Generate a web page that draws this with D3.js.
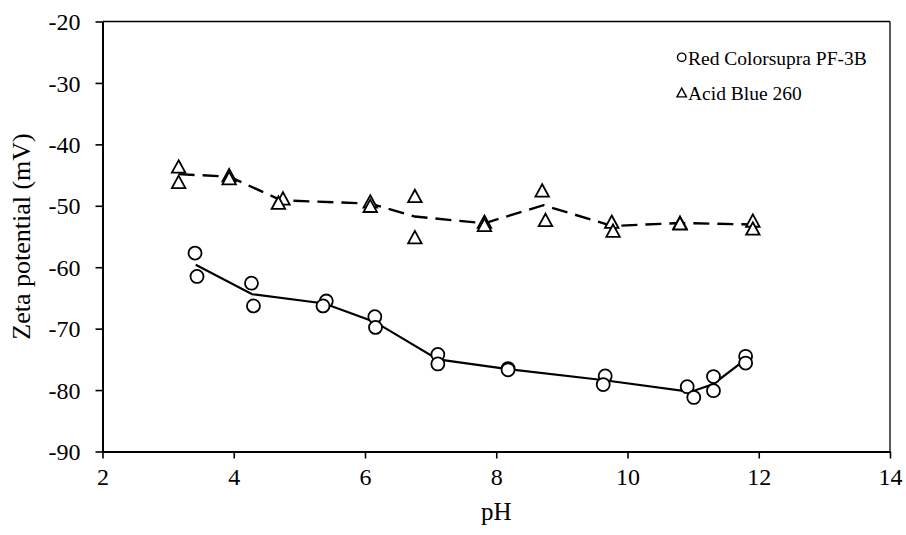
<!DOCTYPE html>
<html>
<head>
<meta charset="utf-8">
<script src="https://cdn.jsdelivr.net/npm/d3@7"></script>
<style>
  html, body { margin: 0; padding: 0; background: #fff; }
  svg { display: block; }
  text { font-family: "Liberation Serif", "Times New Roman", serif; fill: #000; }
</style>
</head>
<body>
<svg id="chart" width="906" height="535"></svg>
<script>
// Zeta potential vs pH, replicate measurements and the mean trend per dye
const xTicks = [2, 4, 6, 8, 10, 12, 14];
const yTicks = [-90, -80, -70, -60, -50, -40, -30, -20];

const seriesNames = ["Red Colorsupra PF-3B", "Acid Blue 260"];

// Red Colorsupra PF-3B: individual readings
const redPH   = [3.41, 3.44, 4.27, 4.30, 5.41, 5.36, 6.15, 6.16, 7.11, 7.11,
                 8.18, 8.18, 9.66, 9.63, 10.91, 11.01, 11.31, 11.31, 11.80, 11.80];
const redZeta = [-57.7, -61.5, -62.6, -66.3, -65.5, -66.3, -68.05, -69.8, -74.2, -75.75,
                 -76.5, -76.7, -77.7, -79.1, -79.45, -81.2, -77.8, -80.1, -74.5, -75.6];
// Red Colorsupra PF-3B: mean trend
const redMeanPH   = [3.42, 4.28, 5.38, 6.15, 7.11, 8.18, 9.65, 10.96, 11.31, 11.80];
const redMeanZeta = [-59.6, -64.4, -65.9, -68.9, -75.0, -76.6, -78.4, -80.3, -79.0, -75.0];

// Acid Blue 260: individual readings
const bluePH   = [3.16, 3.16, 3.93, 3.93, 4.75, 4.68, 6.08, 6.08, 6.76, 6.76,
                  7.82, 7.82, 8.70, 8.75, 9.76, 9.78, 10.80, 10.80, 11.91, 11.91];
const blueZeta = [-43.6, -46.1, -45.0, -45.5, -48.8, -49.5, -49.3, -50.0, -48.4, -55.1,
                  -52.6, -53.1, -47.5, -52.3, -52.6, -54.05, -52.75, -52.85, -52.4, -53.7];
// Acid Blue 260: mean trend
const blueMeanPH   = [3.16, 3.93, 4.72, 6.08, 6.76, 7.82, 8.72, 9.77, 10.80, 11.91];
const blueMeanZeta = [-44.85, -45.25, -49.1, -49.65, -51.75, -52.85, -49.9, -53.3, -52.8, -53.05];

const svg = d3.select("#chart");
const margin = { left: 102.5, right: 16, top: 21.5, bottom: 83.5 };
const W = 906, H = 535;
const x0 = margin.left, x1 = W - margin.right;
const y0 = H - margin.bottom, y1 = margin.top;

const x = d3.scaleLinear().domain([2, 14]).range([x0, x1]);
const y = d3.scaleLinear().domain([-90, -20]).range([y0, y1]);

const zip = (a, b) => a.map((v, i) => [v, b[i]]);
const plain = d => String(d);   // hyphen-minus, as in the printed labels

// frame: thin top/right, heavier left/bottom axes
svg.append("line").attr("x1", x0).attr("x2", x1).attr("y1", y1).attr("y2", y1)
  .attr("stroke", "#000").attr("stroke-width", 1.3);
svg.append("line").attr("x1", x1).attr("x2", x1).attr("y1", y1).attr("y2", y0)
  .attr("stroke", "#000").attr("stroke-width", 1.3);

const xAxis = svg.append("g")
  .attr("transform", `translate(0,${y0})`)
  .call(d3.axisBottom(x).tickValues(xTicks).tickSize(7).tickSizeOuter(0).tickPadding(9).tickFormat(plain));
const yAxis = svg.append("g")
  .attr("transform", `translate(${x0},0)`)
  .call(d3.axisLeft(y).tickValues(yTicks).tickSize(7).tickSizeOuter(0).tickPadding(15).tickFormat(plain));

[xAxis, yAxis].forEach(g => {
  g.select(".domain").attr("stroke", "#000").attr("stroke-width", 2);
  g.selectAll(".tick line").attr("stroke", "#000").attr("stroke-width", 1.6);
  g.selectAll(".tick text").style("font-family", '"Liberation Serif", serif')
    .style("font-size", "24px").attr("fill", "#000");
});
yAxis.selectAll(".tick text").attr("dy", "0.34em");

// axis titles
svg.append("text")
  .attr("x", (x0 + x1) / 2).attr("y", 520)
  .attr("text-anchor", "middle").style("font-size", "25px").text("pH");
svg.append("text")
  .attr("transform", `translate(30,${(y0 + y1) / 2}) rotate(-90)`)
  .attr("text-anchor", "middle").style("font-size", "26px").text("Zeta potential (mV)");

// mean trend lines
const line = d3.line().x(d => x(d[0])).y(d => y(d[1]));
svg.append("path").datum(zip(blueMeanPH, blueMeanZeta))
  .attr("d", line).attr("fill", "none").attr("stroke", "#000")
  .attr("stroke-width", 2.4).attr("stroke-dasharray", "16,8");
svg.append("path").datum(zip(redMeanPH, redMeanZeta))
  .attr("d", line).attr("fill", "none").attr("stroke", "#000")
  .attr("stroke-width", 2.2);

// markers
const triPath = (s) => {
  const h = s * 0.92;
  return `M0,${-h / 2}L${s / 2},${h / 2}L${-s / 2},${h / 2}Z`;
};

svg.append("g").selectAll("path").data(zip(bluePH, blueZeta)).join("path")
  .attr("transform", d => `translate(${x(d[0])},${y(d[1])})`)
  .attr("d", triPath(13.5)).attr("fill", "#fff").attr("stroke", "#000")
  .attr("stroke-width", 1.8).attr("stroke-linejoin", "miter");

svg.append("g").selectAll("circle").data(zip(redPH, redZeta)).join("circle")
  .attr("cx", d => x(d[0])).attr("cy", d => y(d[1])).attr("r", 6.5)
  .attr("fill", "#fff").attr("stroke", "#000").attr("stroke-width", 1.8);

// legend
const lg = svg.append("g");
lg.append("circle").attr("cx", 681.7).attr("cy", 57.3).attr("r", 4.2)
  .attr("fill", "#fff").attr("stroke", "#000").attr("stroke-width", 1.4);
lg.append("text").attr("x", 688).attr("y", 64.5).style("font-size", "19.5px").text(seriesNames[0]);
lg.append("path").attr("transform", "translate(681.7,92.5)").attr("d", triPath(9.5))
  .attr("fill", "#fff").attr("stroke", "#000").attr("stroke-width", 1.4);
lg.append("text").attr("x", 688).attr("y", 99.5).style("font-size", "19.5px").text(seriesNames[1]);
</script>
</body>
</html>
